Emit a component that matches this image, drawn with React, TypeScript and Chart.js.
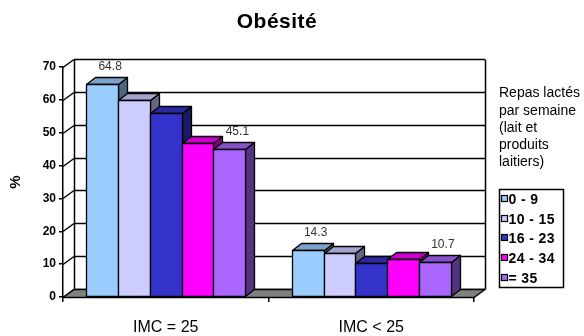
import React, { useEffect, useRef } from 'react';
import { Chart, registerables } from 'chart.js';

Chart.register(...registerables);

const chartTitle = 'Obésité';
const categories = ['IMC = 25', 'IMC < 25'];
const seriesNames = ['0 - 9', '10 - 15', '16 - 23', '24 - 34', '= 35'];
const series0to9 = [64.8, 14.3];
const series10to15 = [59.9, 13.3];
const series16to23 = [55.9, 10.4];
const series24to34 = [46.8, 11.6];
const series35plus = [45.1, 10.7];
const seriesValues = [series0to9, series10to15, series16to23, series24to34, series35plus];
const seriesColors = ['#99CCFF', '#CCCCFF', '#3333CC', '#FF00FF', '#AA66FF'];
const labelledSeries = [0, 4];
const legendTitleLines = ['Repas lactés', 'par semaine', '(lait et', 'produits', 'laitiers)'];
const yAxisTitle = '%';
const yMin = 0;
const yMax = 70;
const yStep = 10;

const FONT = '"Liberation Sans", Arial, Helvetica, sans-serif';
const WALL_DX = 11;
const WALL_DY = -8;
const BAR_DX = 9;
const BAR_DY = -7;

function shade(hex: string, f: number): string {
  const n = parseInt(hex.slice(1), 16);
  const r = Math.round(((n >> 16) & 255) * f);
  const g = Math.round(((n >> 8) & 255) * f);
  const b = Math.round((n & 255) * f);
  return `rgb(${r},${g},${b})`;
}

function poly(ctx: CanvasRenderingContext2D, pts: number[][], fill: string | null) {
  ctx.beginPath();
  ctx.moveTo(pts[0][0], pts[0][1]);
  for (let i = 1; i < pts.length; i++) ctx.lineTo(pts[i][0], pts[i][1]);
  ctx.closePath();
  if (fill) {
    ctx.fillStyle = fill;
    ctx.fill();
  }
  ctx.stroke();
}

function line(ctx: CanvasRenderingContext2D, x1: number, y1: number, x2: number, y2: number) {
  ctx.beginPath();
  ctx.moveTo(x1, y1);
  ctx.lineTo(x2, y2);
  ctx.stroke();
}

const threeDPlugin = {
  id: 'threeD',
  beforeDatasetsDraw(chart: any) {
    const ctx: CanvasRenderingContext2D = chart.ctx;
    const { left, right, bottom } = chart.chartArea;
    const ys = chart.scales.y;
    ctx.save();
    ctx.lineWidth = 1.5;
    ctx.strokeStyle = '#000';
    ctx.lineJoin = 'round';
    // back wall grid and left wall diagonals
    for (let v = yMin; v <= yMax; v += yStep) {
      const py = Math.round(ys.getPixelForValue(v)) + 0.5;
      line(ctx, left + WALL_DX, py + WALL_DY, right + WALL_DX, py + WALL_DY);
      line(ctx, left, py, left + WALL_DX, py + WALL_DY);
    }
    const bx = Math.round(left + WALL_DX) + 0.5;
    const rx = Math.round(right + WALL_DX) + 0.5;
    const ty = Math.round(ys.getPixelForValue(yMax)) + 0.5 + WALL_DY;
    const by = Math.round(ys.getPixelForValue(yMin)) + 0.5 + WALL_DY;
    line(ctx, bx, ty, bx, by);
    line(ctx, rx, ty, rx, by);
    // floor
    const fb = Math.round(bottom) + 0.5;
    poly(
      ctx,
      [
        [left, fb],
        [right, fb],
        [right + WALL_DX, fb + WALL_DY],
        [left + WALL_DX, fb + WALL_DY],
      ],
      '#808080'
    );
    // bars
    ctx.lineWidth = 1.3;
    const nDs = chart.data.datasets.length;
    for (let i = 0; i < categories.length; i++) {
      for (let d = 0; d < nDs; d++) {
        const el = chart.getDatasetMeta(d).data[i];
        const p = el.getProps(['x', 'y', 'base', 'width'], true);
        const l = Math.round(p.x - p.width / 2) + 0.5;
        const r = Math.round(p.x + p.width / 2) + 0.5;
        const t = Math.round(p.y) + 0.5;
        const b = Math.round(p.base) + 0.5;
        const col = seriesColors[d];
        poly(ctx, [[r, t], [r + BAR_DX, t + BAR_DY], [r + BAR_DX, b + BAR_DY], [r, b]], shade(col, 0.5));
        poly(ctx, [[l, t], [l + BAR_DX, t + BAR_DY], [r + BAR_DX, t + BAR_DY], [r, t]], shade(col, 0.8));
        poly(ctx, [[l, t], [r, t], [r, b], [l, b]], col);
      }
    }
    // value labels
    ctx.fillStyle = '#333';
    ctx.font = `12px ${FONT}`;
    ctx.textAlign = 'center';
    ctx.textBaseline = 'middle';
    for (let i = 0; i < categories.length; i++) {
      for (const d of labelledSeries) {
        const el = chart.getDatasetMeta(d).data[i];
        const p = el.getProps(['x', 'y'], true);
        ctx.fillText(String(seriesValues[d][i]), p.x + 8, p.y + BAR_DY - 10);
      }
    }
    ctx.restore();
    return false;
  },
  afterDraw(chart: any) {
    const ctx: any = chart.ctx;
    ctx.save();
    // title
    ctx.fillStyle = '#000';
    ctx.font = `bold 21px ${FONT}`;
    ctx.letterSpacing = '0.5px';
    ctx.textAlign = 'center';
    ctx.textBaseline = 'alphabetic';
    ctx.fillText(chartTitle, 277, 28);
    // legend title
    ctx.letterSpacing = '0px';
    ctx.font = `14px ${FONT}`;
    ctx.textAlign = 'left';
    ctx.textBaseline = 'middle';
    const lys = [93, 111, 128.5, 145, 162];
    legendTitleLines.forEach((t, k) => ctx.fillText(t, 499, lys[k]));
    // legend box
    ctx.lineWidth = 1.5;
    ctx.strokeStyle = '#000';
    ctx.fillStyle = '#fff';
    ctx.fillRect(499.5, 189.5, 64, 98);
    ctx.strokeRect(499.5, 189.5, 64, 98);
    ctx.lineWidth = 1.2;
    ctx.font = `bold 14px ${FONT}`;
    ctx.letterSpacing = '0.4px';
    seriesNames.forEach((name, k) => {
      const cy = Math.round(199 + k * 19.7);
      ctx.fillStyle = seriesColors[k];
      ctx.fillRect(501.5, cy - 3.5, 6, 6);
      ctx.strokeRect(501.5, cy - 3.5, 6, 6);
      ctx.fillStyle = '#000';
      ctx.fillText(name, 508.5, cy + 1);
    });
    ctx.letterSpacing = '0px';
    ctx.restore();
  },
};

export default function App() {
  const ref = useRef<HTMLCanvasElement | null>(null);
  useEffect(() => {
    if (!ref.current) return;
    const chart = new Chart(ref.current, {
      type: 'bar',
      data: {
        labels: categories,
        datasets: seriesNames.map((name, d) => ({
          label: name,
          data: seriesValues[d],
          backgroundColor: seriesColors[d],
          borderColor: '#000',
          borderWidth: 1,
          categoryPercentage: 0.774,
          barPercentage: 1,
        })),
      },
      options: {
        responsive: false,
        animation: false,
        devicePixelRatio: 1,
        layout: { padding: { left: 0, right: 110, top: 67, bottom: 0 } },
        plugins: {
          legend: { display: false },
          title: { display: false },
          tooltip: { enabled: false },
        },
        scales: {
          x: {
            afterFit: (s: any) => {
              s.height = 39;
            },
            grid: {
              display: true,
              drawOnChartArea: false,
              drawTicks: true,
              tickLength: 5,
              lineWidth: 1.5,
              color: '#000',
              offset: true,
            },
            border: { display: true, color: '#000', width: 1.5 },
            ticks: {
              color: '#000',
              padding: 16,
              font: { family: FONT, size: 16 },
            },
          },
          y: {
            min: yMin,
            max: yMax,
            afterFit: (s: any) => {
              s.width = 63;
            },
            ticks: {
              stepSize: yStep,
              color: '#000',
              padding: 3,
              font: { family: FONT, size: 12, weight: 'bold' },
            },
            grid: {
              display: true,
              drawOnChartArea: false,
              drawTicks: true,
              tickLength: 4,
              lineWidth: 1.5,
              color: '#000',
            },
            border: { display: true, color: '#000', width: 1.5 },
            title: {
              display: true,
              text: yAxisTitle,
              color: '#000',
              padding: { top: 7, bottom: 0 },
              font: { family: FONT, size: 15, weight: 'bold' },
            },
          },
        },
      },
      plugins: [threeDPlugin],
    } as any);
    return () => chart.destroy();
  }, []);
  return (
    <div style={{ position: 'fixed', left: 0, top: 0, width: 584, height: 336, background: '#fff' }}>
      <canvas ref={ref} width={584} height={336} style={{ display: 'block' }} />
    </div>
  );
}
